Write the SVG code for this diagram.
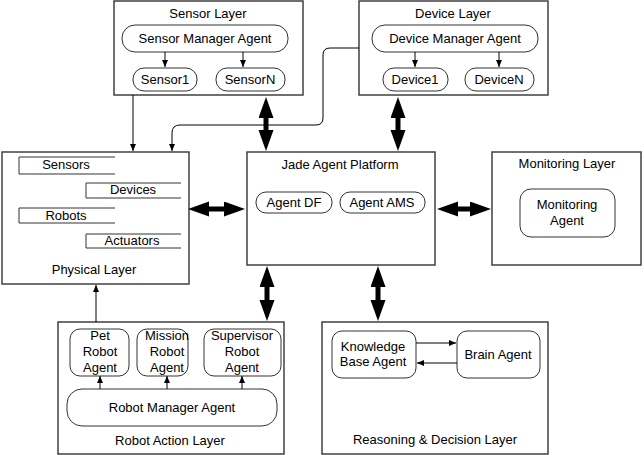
<svg xmlns="http://www.w3.org/2000/svg" width="644" height="455" viewBox="0 0 644 455">
<style>
text{font-family:"Liberation Sans",Arial,sans-serif;font-size:13px;fill:#000;text-anchor:middle}
.layer{fill:#fff;stroke:#404040;stroke-width:1.5}
.pill{fill:#fff;stroke:#333;stroke-width:1}
.tab{fill:none;stroke:#333;stroke-width:1}
.thin{fill:none;stroke:#000;stroke-width:1;marker-end:url(#ah)}
.thick{fill:none;stroke:#000;stroke-width:5;marker-start:url(#big);marker-end:url(#big)}
</style>
<defs>
<marker id="ah" markerUnits="userSpaceOnUse" markerWidth="8" markerHeight="8" refX="7" refY="3" orient="auto"><path d="M0,0 L7,3 L0,6 z" fill="#000"/></marker>
<marker id="big" markerUnits="userSpaceOnUse" markerWidth="22" markerHeight="16" refX="11" refY="7.5" orient="auto-start-reverse"><path d="M0,0 L21,7.5 L0,15 z" fill="#000"/></marker>
</defs>
<rect width="644" height="455" fill="#fff"/>

<g id="sensor-layer">
<rect class="layer" x="114" y="1" width="189" height="94"/>
<text x="208" y="18">Sensor Layer</text>
<g id="sensor-manager-agent"><rect class="pill" x="122" y="25" width="166" height="27" rx="13"/><text x="205" y="43">Sensor Manager Agent</text></g>
<g id="sensor1"><rect class="pill" x="133" y="68" width="64" height="23" rx="11"/><text x="165" y="84">Sensor1</text></g>
<g id="sensorN"><rect class="pill" x="216" y="68" width="69" height="23" rx="11"/><text x="250" y="84">SensorN</text></g>
</g>

<g id="device-layer">
<rect class="layer" x="359" y="1" width="189" height="94"/>
<text x="453" y="18">Device Layer</text>
<g id="device-manager-agent"><rect class="pill" x="372" y="25" width="166" height="27" rx="13"/><text x="455" y="43">Device Manager Agent</text></g>
<g id="device1"><rect class="pill" x="383" y="68" width="65" height="23" rx="11"/><text x="415" y="84">Device1</text></g>
<g id="deviceN"><rect class="pill" x="465" y="68" width="69" height="23" rx="11"/><text x="499" y="84">DeviceN</text></g>
</g>

<g id="physical-layer">
<rect class="layer" x="2" y="152" width="187" height="132"/>
<path class="tab" d="M115,157 H19 V174 H115"/>
<text x="66" y="169">Sensors</text>
<path class="tab" d="M181,183 H86 V198 H181"/>
<text x="133" y="194">Devices</text>
<path class="tab" d="M115,208 H19 V223 H115"/>
<text x="66" y="220">Robots</text>
<path class="tab" d="M181,234 H86 V248 H181"/>
<text x="132" y="245">Actuators</text>
<text x="94" y="274">Physical Layer</text>
</g>

<g id="jade-agent-platform">
<rect class="layer" x="247" y="152" width="188" height="113"/>
<text x="340" y="169">Jade Agent Platform</text>
<g id="agent-df"><rect class="pill" x="256" y="192" width="76" height="21" rx="10"/><text x="294" y="207">Agent DF</text></g>
<g id="agent-ams"><rect class="pill" x="340" y="192" width="85" height="21" rx="10"/><text x="382" y="207">Agent AMS</text></g>
</g>

<g id="monitoring-layer">
<rect class="layer" x="492" y="152" width="149" height="113"/>
<text x="567" y="168">Monitoring Layer</text>
<g id="monitoring-agent"><rect class="pill" x="520" y="189" width="95" height="48" rx="11"/><text x="567" y="209">Monitoring</text><text x="567" y="225">Agent</text></g>
</g>

<g id="robot-action-layer">
<rect class="layer" x="58" y="322" width="226" height="132"/>
<g id="pet-robot-agent"><rect class="pill" x="70" y="329" width="59" height="47" rx="10"/><text x="100" y="340">Pet</text><text x="100" y="356">Robot</text><text x="100" y="372">Agent</text></g>
<g id="mission-robot-agent"><rect class="pill" x="137" y="329" width="51" height="47" rx="10"/><text x="167" y="340">Mission</text><text x="167" y="356">Robot</text><text x="167" y="372">Agent</text></g>
<g id="supervisor-robot-agent"><rect class="pill" x="204" y="329" width="77" height="47" rx="10"/><text x="242" y="340">Supervisor</text><text x="242" y="356">Robot</text><text x="242" y="372">Agent</text></g>
<g id="robot-manager-agent"><rect class="pill" x="67" y="389" width="210" height="37" rx="15"/><text x="172" y="412">Robot Manager Agent</text></g>
<text x="170" y="445">Robot Action Layer</text>
</g>

<g id="reasoning-decision-layer">
<rect class="layer" x="322" y="322" width="226" height="132"/>
<g id="knowledge-base-agent"><rect class="pill" x="332" y="331" width="84" height="47" rx="10"/><text x="373" y="351">Knowledge</text><text x="373" y="366">Base Agent</text></g>
<g id="brain-agent"><rect class="pill" x="457" y="331" width="83" height="47" rx="10"/><text x="498" y="359">Brain Agent</text></g>
<text x="435" y="444">Reasoning &amp; Decision Layer</text>
</g>

<g id="connectors">
<line class="thin" x1="133" y1="95" x2="133" y2="151"/>
<path class="thin" d="M359,48 H330 Q323,48 323,55 V118 Q323,125 316,125 H180 Q172,125 172,133 V151"/>
<line class="thick" x1="266" y1="107" x2="266" y2="141"/>
<line class="thick" x1="398" y1="107" x2="398" y2="141"/>
<line class="thick" x1="198" y1="209" x2="235" y2="209"/>
<line class="thick" x1="447" y1="209" x2="481" y2="209"/>
<line class="thick" x1="267" y1="276" x2="267" y2="311"/>
<line class="thick" x1="378" y1="276" x2="378" y2="311"/>
<line class="thin" x1="96" y1="322" x2="96" y2="285"/>
<line class="thin" x1="165" y1="52" x2="165" y2="67"/>
<line class="thin" x1="243" y1="52" x2="243" y2="67"/>
<line class="thin" x1="415" y1="52" x2="415" y2="67"/>
<line class="thin" x1="499" y1="52" x2="499" y2="67"/>
<line class="thin" x1="100" y1="389" x2="100" y2="376"/>
<line class="thin" x1="167" y1="389" x2="167" y2="376"/>
<line class="thin" x1="242" y1="389" x2="242" y2="376"/>
<line class="thin" x1="416" y1="343" x2="456" y2="343"/>
<line class="thin" x1="457" y1="363" x2="417" y2="363"/>
</g>
</svg>
